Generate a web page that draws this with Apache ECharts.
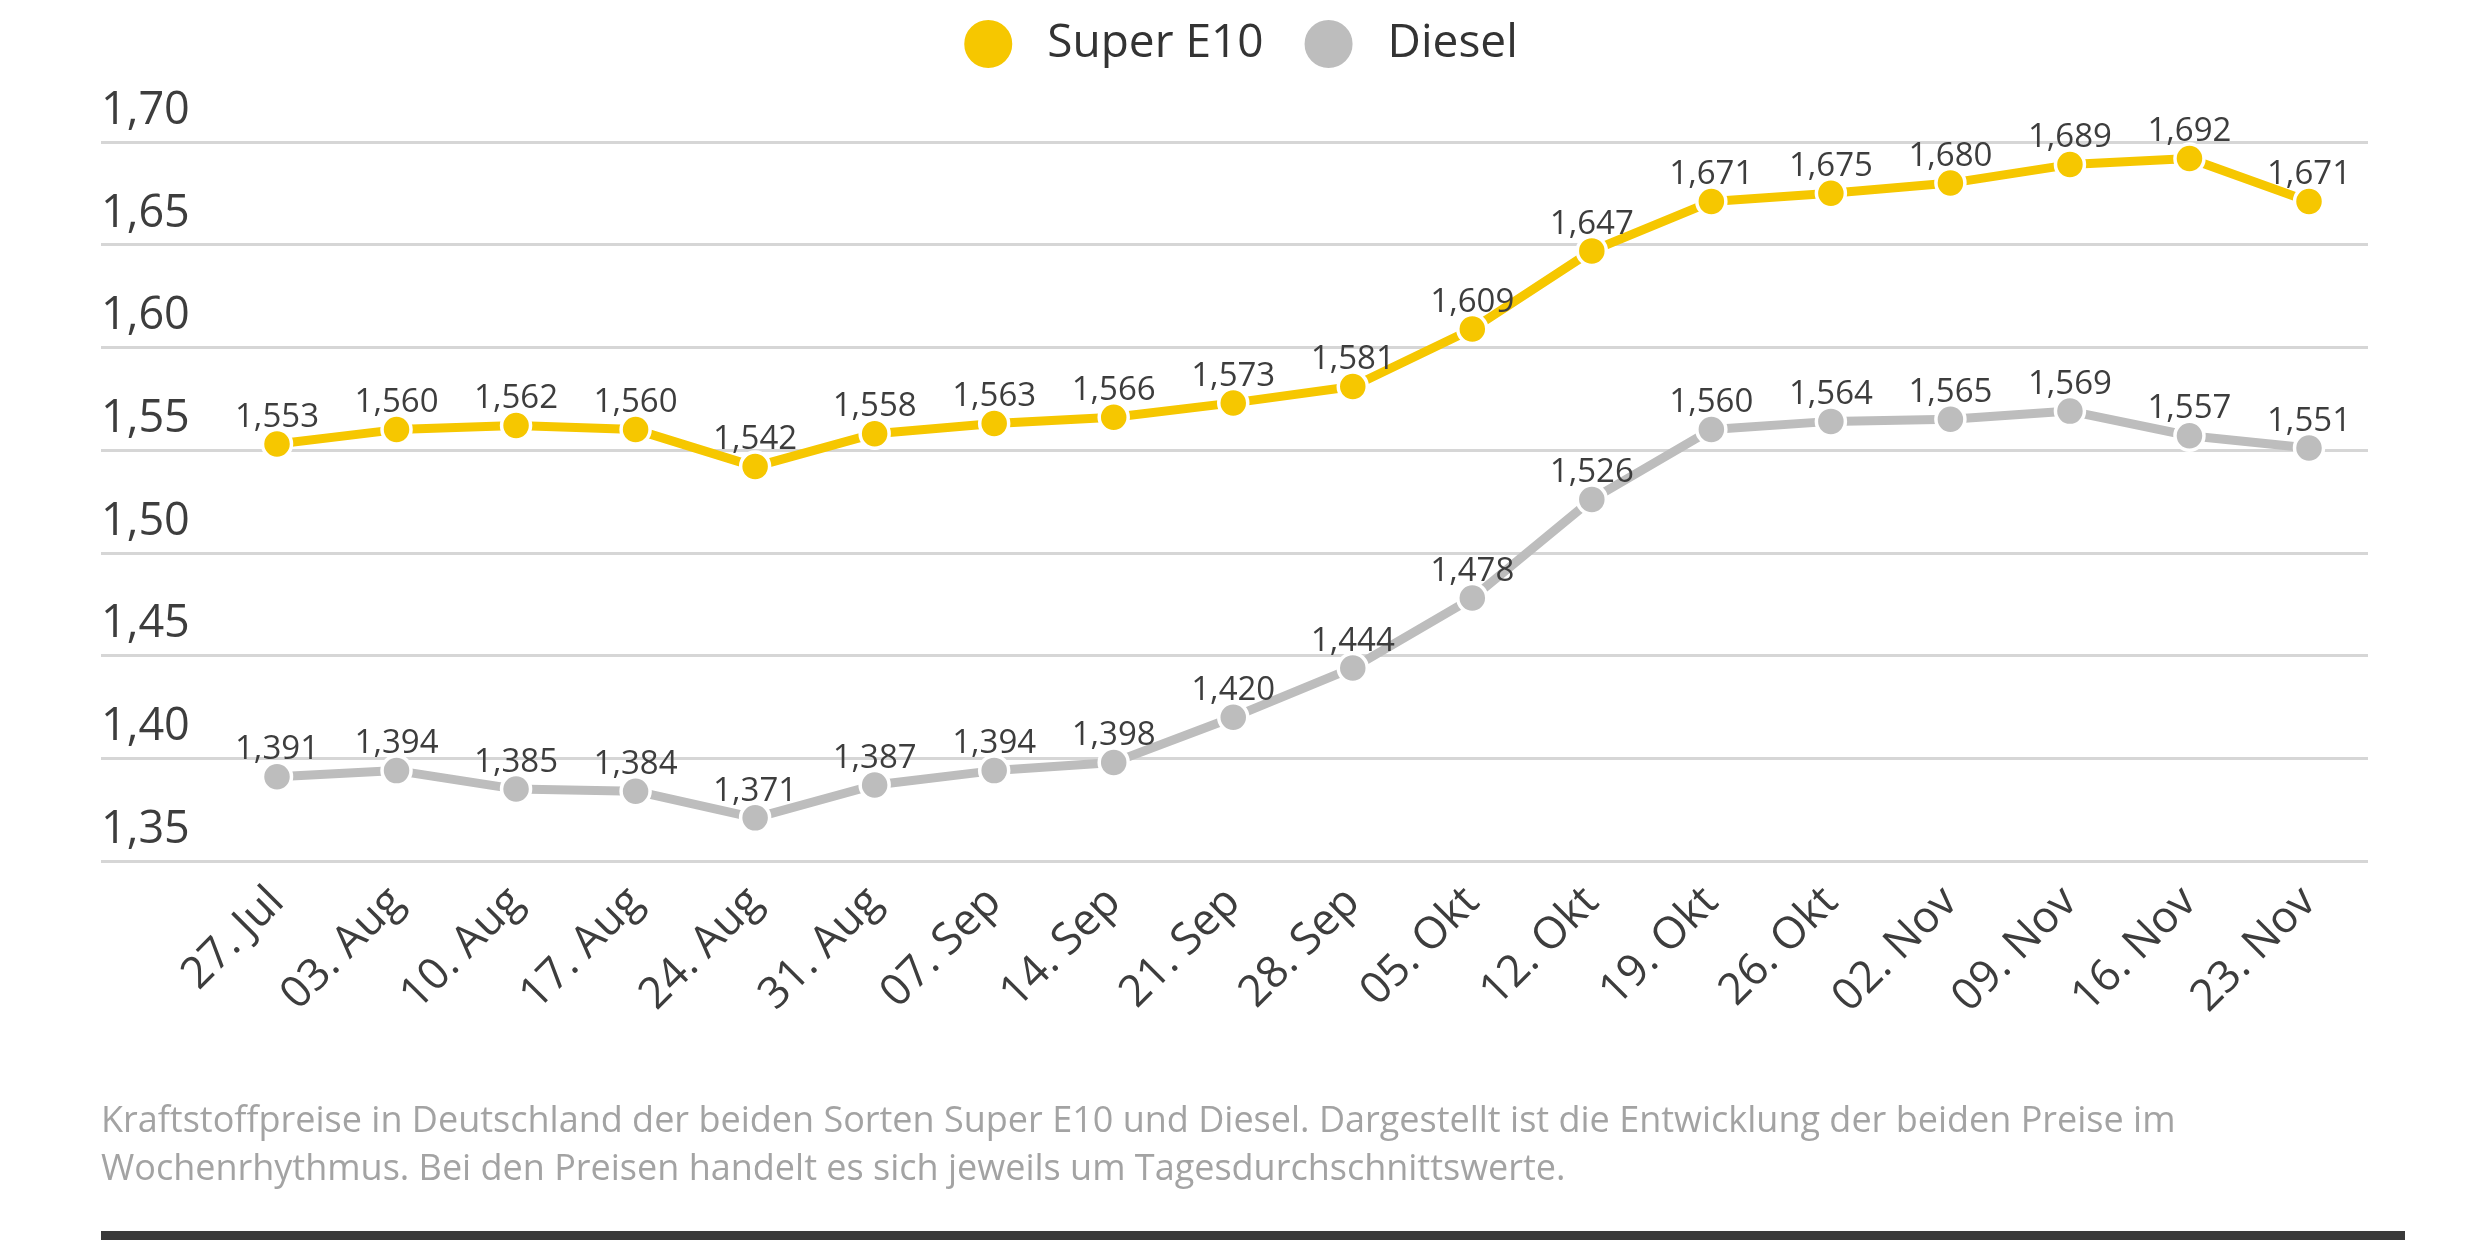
<!DOCTYPE html>
<html>
<head>
<meta charset="utf-8">
<script src="https://cdn.jsdelivr.net/npm/echarts@6/dist/echarts.min.js"></script>
<style>
html,body{margin:0;padding:0;background:#fff;}
#chart{width:2480px;height:1240px;}
</style>
</head>
<body>
<div id="chart"></div>
<script>
const categories = ['27. Jul','03. Aug','10. Aug','17. Aug','24. Aug','31. Aug','07. Sep','14. Sep','21. Sep','28. Sep','05. Okt','12. Okt','19. Okt','26. Okt','02. Nov','09. Nov','16. Nov','23. Nov'];
const superE10 = [1.553,1.560,1.562,1.560,1.542,1.558,1.563,1.566,1.573,1.581,1.609,1.647,1.671,1.675,1.680,1.689,1.692,1.671];
const diesel = [1.391,1.394,1.385,1.384,1.371,1.387,1.394,1.398,1.420,1.444,1.478,1.526,1.560,1.564,1.565,1.569,1.557,1.551];
const yMin = 1.35, yMax = 1.70, yStep = 0.05;
const footnote = 'Kraftstoffpreise in Deutschland der beiden Sorten Super E10 und Diesel. Dargestellt ist die Entwicklung der beiden Preise im\nWochenrhythmus. Bei den Preisen handelt es sich jeweils um Tagesdurchschnittswerte.';

const FONT = '"Open Sans", "Noto Sans", sans-serif';
const chart = echarts.init(document.getElementById('chart'));
const fmt3 = v => v.toFixed(3).replace('.', ',');
const fmt2 = v => (Math.round(v*100)/100).toFixed(2).replace('.', ',');

function lineSeries(name, data, color) {
  return {
    name, type: 'line', data,
    xAxisIndex: 1, yAxisIndex: 1,
    symbol: 'circle', symbolSize: 29,
    lineStyle: { color, width: 9 },
    itemStyle: { color, borderColor: '#fff', borderWidth: 3.5 },
    label: {
      show: true, position: 'top', distance: -6,
      formatter: p => fmt3(p.value),
      fontFamily: FONT, fontSize: 33, color: '#3d3d3d'
    },
    emphasis: { disabled: true },
    z: 3
  };
}

chart.setOption({
  animation: false,
  backgroundColor: '#fff',
  textStyle: { fontFamily: FONT },
  legend: {
    top: 13, left: 'center',
    icon: 'circle', itemWidth: 50, itemHeight: 50, itemGap: 39,
    textStyle: { fontFamily: FONT, fontSize: 46, color: '#333', padding: [0,0,0,29] },
    data: ['Super E10', 'Diesel']
  },
  grid: [
    { left: 101, right: 112, top: 142, bottom: 379 },
    { left: 277, right: 171, top: 142, bottom: 379 }
  ],
  xAxis: [
    { gridIndex: 0, type: 'category', data: categories, show: false },
    {
      gridIndex: 1, type: 'category', data: categories, boundaryGap: false,
      axisLine: { show: false }, axisTick: { show: false },
      axisLabel: { rotate: 45, margin: 34, fontFamily: FONT, fontSize: 44, color: '#3d3d3d', interval: 0 }
    }
  ],
  yAxis: [
    {
      gridIndex: 0, type: 'value', min: yMin, max: yMax, interval: yStep,
      axisLine: { show: false }, axisTick: { show: false },
      splitLine: { show: true, lineStyle: { color: '#d6d6d6', width: 3 } },
      axisLabel: {
        inside: true, margin: 0, align: 'left', verticalAlign: 'bottom',
        lineHeight: 62,
        fontFamily: FONT, fontSize: 45, color: '#3d3d3d',
        formatter: v => fmt2(v)
      }
    },
    { gridIndex: 1, type: 'value', min: yMin, max: yMax, interval: yStep, show: false, splitLine: { show: false } }
  ],
  series: [
    lineSeries('Super E10', superE10, '#f6c700'),
    lineSeries('Diesel', diesel, '#bdbdbd')
  ],
  graphic: [
    {
      type: 'text', left: 101, top: 1098,
      style: { text: footnote, fontFamily: FONT, fontSize: 36, lineHeight: 48, fill: '#a3a3a3' }
    },
    {
      type: 'rect', shape: { x: 101, y: 1231, width: 2304, height: 9 },
      style: { fill: '#3a3a3a' }
    }
  ]
});
</script>
</body>
</html>
